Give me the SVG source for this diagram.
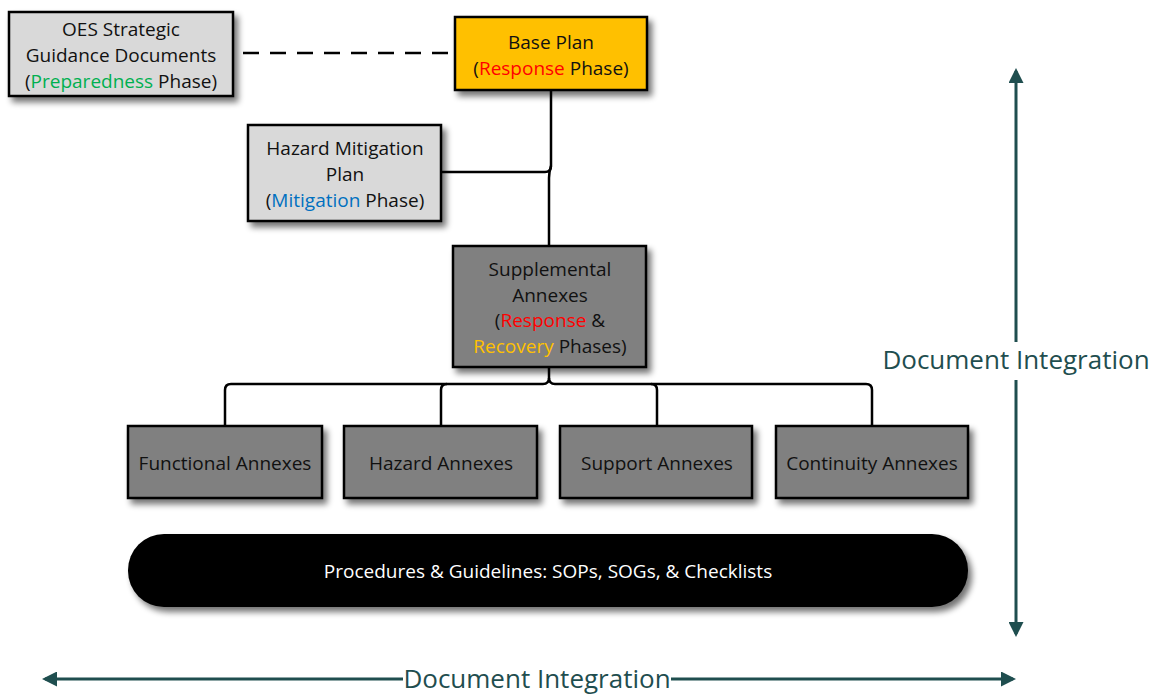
<svg xmlns="http://www.w3.org/2000/svg" width="1155" height="695" viewBox="0 0 1155 695">
<defs>
<filter id="sh" x="-10%" y="-10%" width="130%" height="140%">
<feGaussianBlur in="SourceAlpha" stdDeviation="3"/>
<feOffset dx="4" dy="5" result="b"/>
<feComponentTransfer><feFuncA type="linear" slope="0.55"/></feComponentTransfer>
<feMerge><feMergeNode/><feMergeNode in="SourceGraphic"/></feMerge>
</filter>
<marker id="ah" viewBox="0 0 10 10" refX="8" refY="5" markerWidth="5" markerHeight="5" orient="auto-start-reverse" markerUnits="strokeWidth">
<path d="M0,0 L10,5 L0,10 Z" fill="#1f4e4f"/>
</marker>
</defs>
<style>
.box{stroke:#000;stroke-width:2.5}
.light{fill:#d9d9d9}
.gold{fill:#ffc000}
.dark{fill:#808080}
text{font-family:"Open Sans","Liberation Sans",sans-serif;font-size:19px;fill:#111;text-anchor:middle}
.con{fill:none;stroke:#000;stroke-width:2.5}
.int{stroke:#1f4e4f;stroke-width:3;fill:none}
.lbl{font-size:26px;fill:#1f4e4f}
.g{fill:#00b050}.r{fill:#ff0000}.b{fill:#0070c0}.y{fill:#ffc000}
</style>
<rect width="1155" height="695" fill="#fff"/>

<g id="connectors">
<line x1="243" y1="53" x2="455" y2="53" class="con" stroke-dasharray="16,11"/>
<path d="M551,90 V166 Q551,172 545,172 H441" class="con"/>
<path d="M551,166 Q549,172 549,178 V246" class="con"/>
<path d="M549,367 V378 Q549,384 543,384 H231 Q225,384 225,390 V426" class="con"/>
<path d="M549,378 Q549,384 555,384 H866 Q872,384 872,390 V426" class="con"/>
<path d="M447,384 Q441,384 441,390 V426" class="con"/>
<path d="M651,384 Q657,384 657,390 V426" class="con"/>
</g>

<g id="oes">
<rect x="9" y="12" width="224" height="84" class="box light" filter="url(#sh)"/>
<text x="121" y="36">OES Strategic</text>
<text x="121" y="62">Guidance Documents</text>
<text x="121" y="88">(<tspan class="g">Preparedness</tspan> Phase)</text>
</g>

<g id="base">
<rect x="455" y="17" width="192" height="73" class="box gold" filter="url(#sh)"/>
<text x="551" y="49">Base Plan</text>
<text x="551" y="75">(<tspan class="r">Response</tspan> Phase)</text>
</g>

<g id="hmp">
<rect x="248" y="125" width="193" height="96" class="box light" filter="url(#sh)"/>
<text x="345" y="155">Hazard Mitigation</text>
<text x="345" y="181">Plan</text>
<text x="345" y="207">(<tspan class="b">Mitigation</tspan> Phase)</text>
</g>

<g id="supp">
<rect x="453" y="246" width="193" height="121" class="box dark" filter="url(#sh)"/>
<text x="550" y="276">Supplemental</text>
<text x="550" y="302">Annexes</text>
<text x="550" y="327">(<tspan class="r">Response</tspan> &amp;</text>
<text x="550" y="353"><tspan class="y">Recovery</tspan> Phases)</text>
</g>

<g id="functional">
<rect x="128" y="426" width="194" height="72" class="box dark" filter="url(#sh)"/>
<text x="225" y="470">Functional Annexes</text>
</g>
<g id="hazard">
<rect x="344" y="426" width="193" height="72" class="box dark" filter="url(#sh)"/>
<text x="441" y="470">Hazard Annexes</text>
</g>
<g id="support">
<rect x="560" y="426" width="192" height="72" class="box dark" filter="url(#sh)"/>
<text x="657" y="470">Support Annexes</text>
</g>
<g id="continuity">
<rect x="776" y="426" width="192" height="72" class="box dark" filter="url(#sh)"/>
<text x="872" y="470">Continuity Annexes</text>
</g>

<g id="procedures">
<rect x="128" y="534" width="840" height="73" rx="36" ry="36" fill="#000" filter="url(#sh)"/>
<text x="548" y="578" style="fill:#fff">Procedures &amp; Guidelines: SOPs, SOGs, &amp; Checklists</text>
</g>

<g id="integration">
<line x1="1016" y1="342" x2="1016" y2="71" class="int" marker-end="url(#ah)"/>
<line x1="1016" y1="380" x2="1016" y2="634" class="int" marker-end="url(#ah)"/>
<text x="1016" y="369" class="lbl">Document Integration</text>
<line x1="403" y1="679" x2="45" y2="679" class="int" marker-end="url(#ah)"/>
<line x1="671" y1="679" x2="1013" y2="679" class="int" marker-end="url(#ah)"/>
<text x="537" y="688" class="lbl">Document Integration</text>
</g>
</svg>
